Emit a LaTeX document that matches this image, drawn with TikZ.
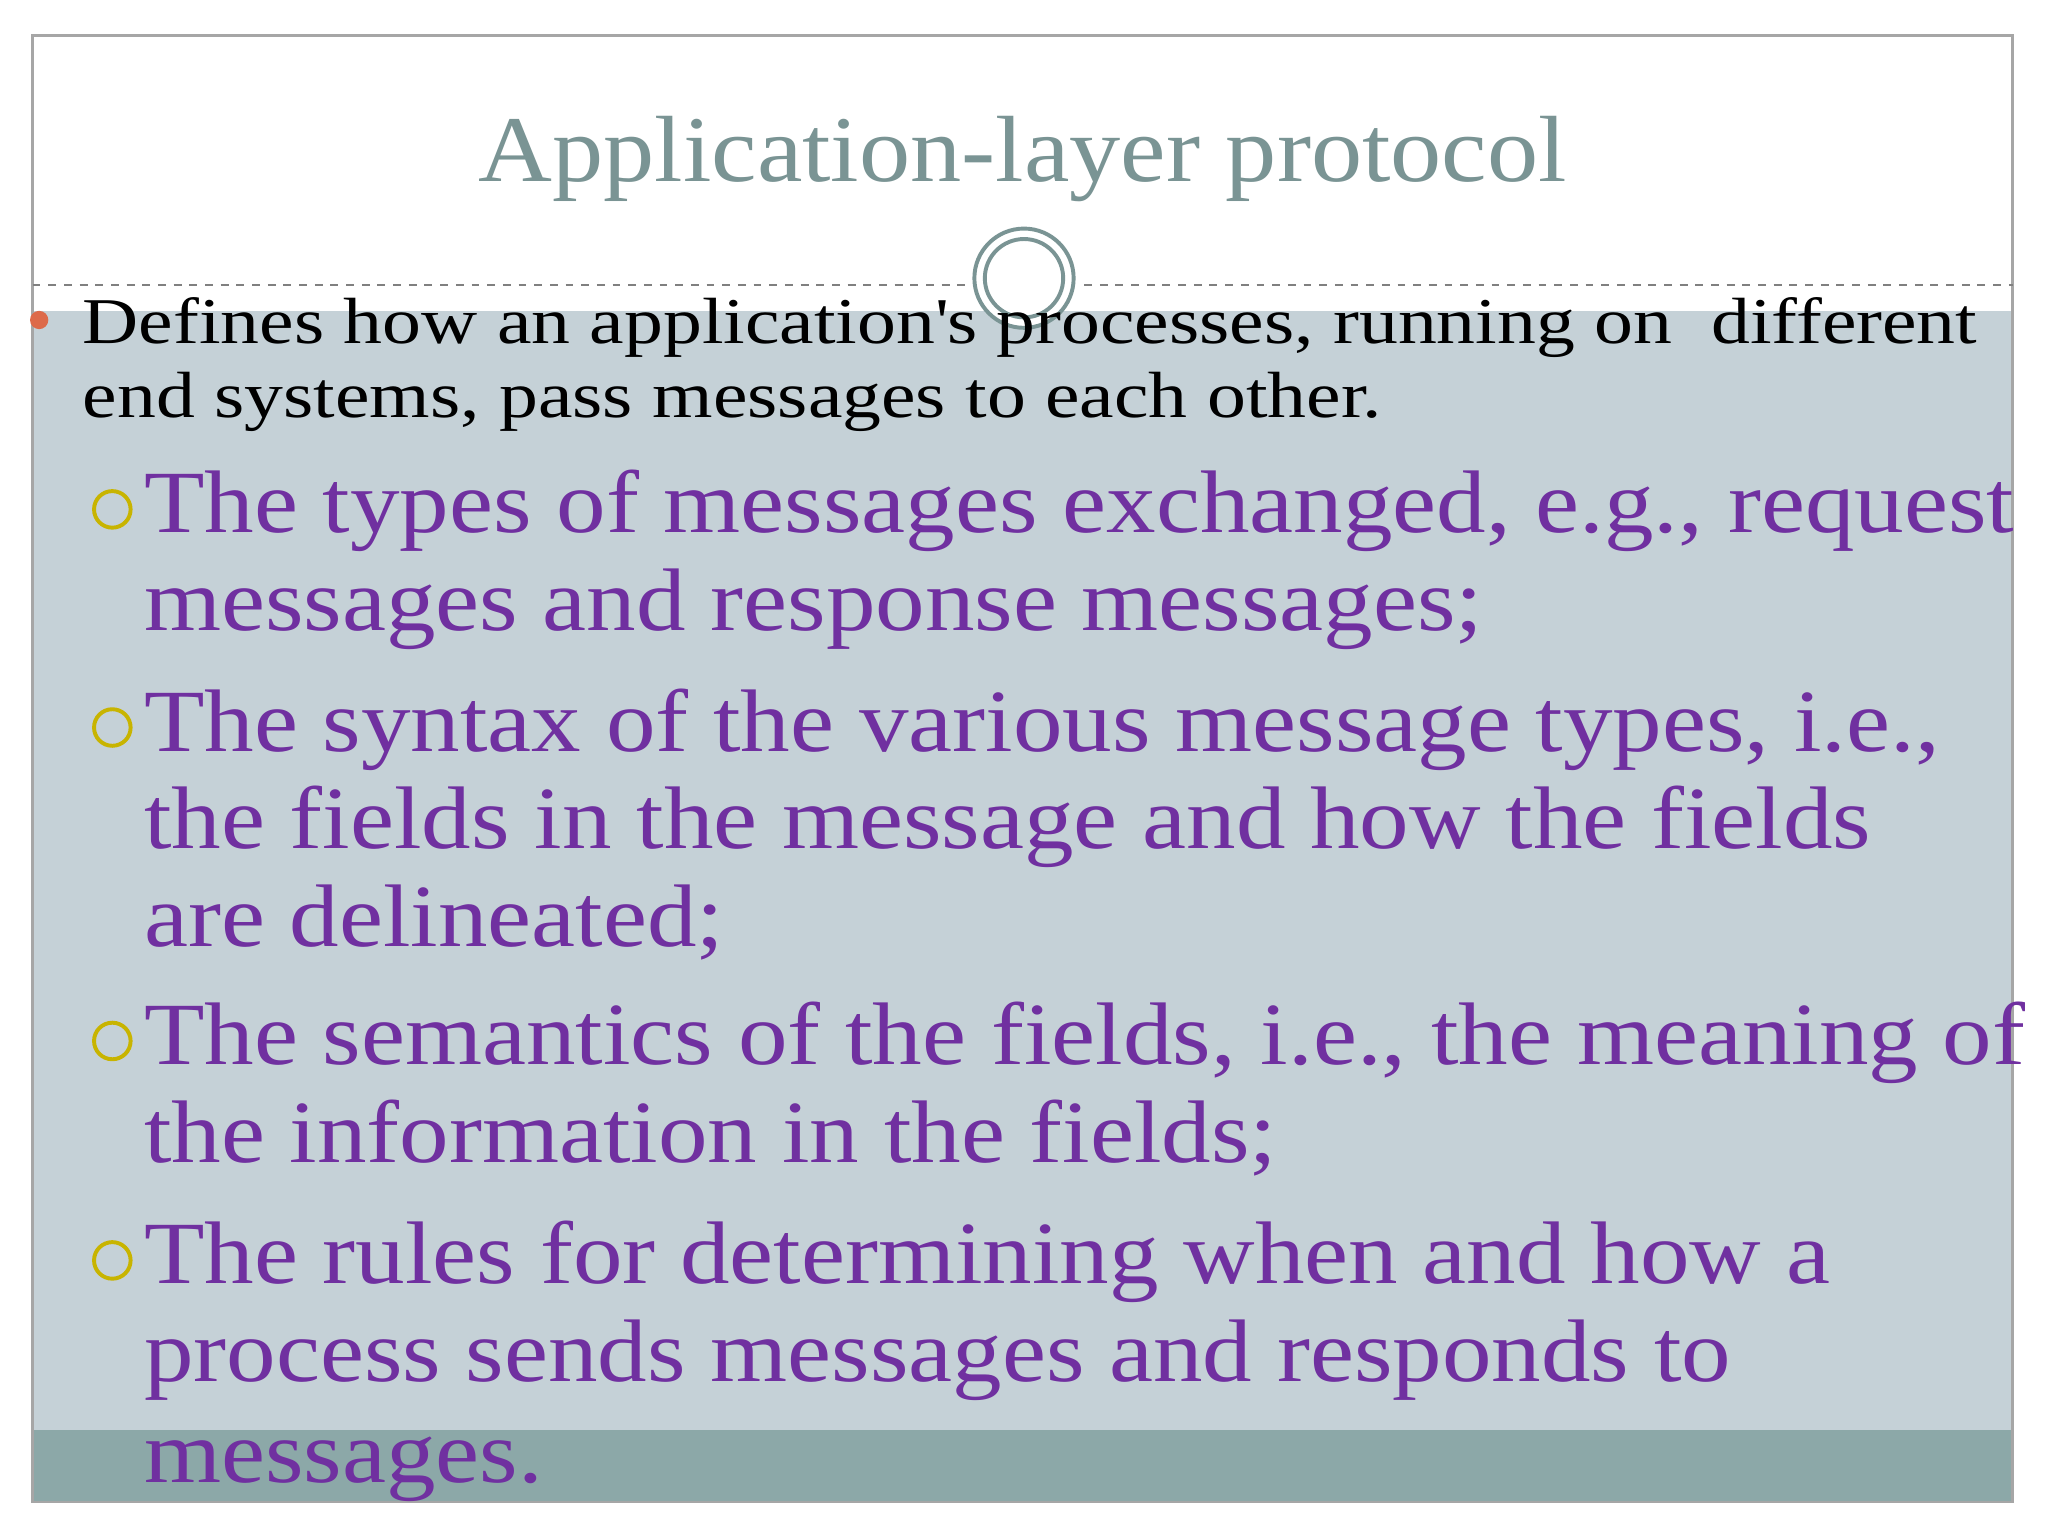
\documentclass[tikz,border=0pt]{standalone}
\usepackage{fontspec}
\setmainfont{Liberation Serif}
\newfontfamily\ttlf[FakeStretch=1.088]{Liberation Serif}
\newfontfamily\blkf[FakeStretch=1.19]{Liberation Serif}
\newfontfamily\purf[FakeStretch=1.115]{Liberation Serif}
\definecolor{ttl}{HTML}{7A9494}
\definecolor{pnl}{HTML}{C5D1D7}
\definecolor{band}{HTML}{8CA8A8}
\definecolor{purp}{HTML}{7030A0}
\definecolor{oli}{HTML}{C8B400}
\definecolor{org}{HTML}{DD6A4A}
\begin{document}
\begin{tikzpicture}[x=0.5pt,y=-0.5pt,
  blk/.style={anchor=base west,inner sep=0pt,font=\blkf\fontsize{25}{30}\selectfont},
  pur/.style={anchor=base west,inner sep=0pt,text=purp,font=\purf\fontsize{34}{40}\selectfont},
  obul/.style={draw=oli,line width=1.5pt,circle,minimum size=14pt,inner sep=0pt}]
\useasboundingbox (0,0) rectangle (1568,1176);
\fill[white] (0,0) rectangle (1568,1176);
\fill[pnl] (25,238) rectangle (1541,1095);
\fill[band] (25,1095) rectangle (1541,1150);
\draw[gray!70,line width=1pt] (25,27) rectangle (1541,1150);
\draw[gray,dashed,line width=0.6pt] (25,218) -- (740,218) (830,218) -- (1541,218);
\node (c) [circle,draw=ttl,fill=white,line width=1.5pt,minimum size=38pt,inner sep=0pt] at (784,213) {};
\node [circle,draw=ttl,line width=1.5pt,minimum size=30pt,inner sep=0pt] at (c) {};
\node (title) [inner sep=0pt,text=ttl,font=\ttlf\fontsize{36}{40}\selectfont] at (783,122) {Application-layer protocol};
\node (dot) [circle,fill=org,minimum size=7pt,inner sep=0pt] at (30,245) {};
\node (l1) [blk] at (63,263) {Defines how an application\textquotesingle s processes, running on\ \ different};
\node (l2) [blk] at (63,320) {end systems, pass messages to each other.};
\foreach \y in {390,557,797,965} \node [obul] at (86,\y) {};
\node [pur] at (110,408) {The types of messages exchanged, e.g., request};
\node [pur] at (110,483) {messages and response messages;};
\node [pur] at (110,575) {The syntax of the various message types, i.e.,};
\node [pur] at (110,650) {the fields in the message and how the fields};
\node [pur] at (110,725) {are delineated;};
\node [pur] at (110,815) {The semantics of the fields, i.e., the meaning of};
\node [pur] at (110,890) {the information in the fields;};
\node [pur] at (110,983) {The rules for determining when and how a};
\node [pur] at (110,1058) {process sends messages and responds to};
\node [pur] at (110,1135) {messages.};
\end{tikzpicture}
\end{document}
